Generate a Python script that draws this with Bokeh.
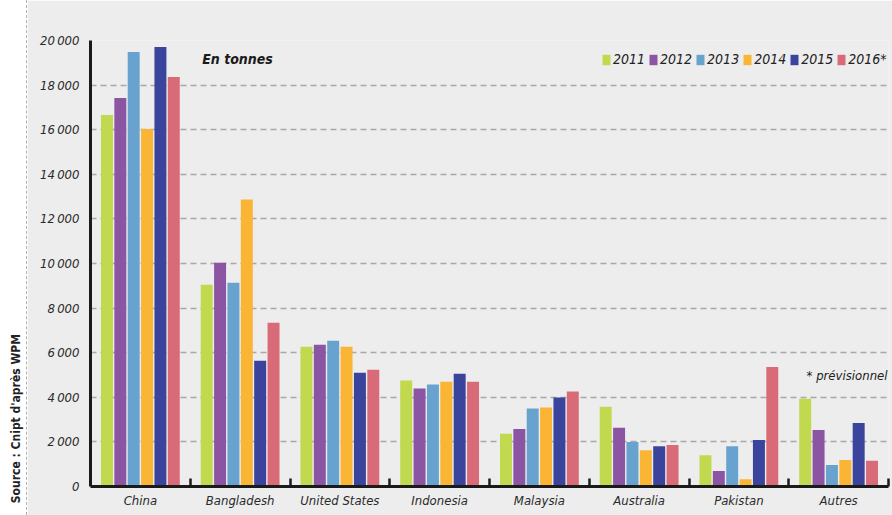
from bokeh.plotting import figure
from bokeh.models import (ColumnDataSource, FixedTicker, Legend, LegendItem,
                          Label, Range1d, Div)
from bokeh.layouts import row
from bokeh.transform import dodge
from bokeh.embed import file_html
from bokeh.resources import INLINE

# ---------------- data ----------------
categories = ["China", "Bangladesh", "United States", "Indonesia",
              "Malaysia", "Australia", "Pakistan", "Autres"]
years = ["2011", "2012", "2013", "2014", "2015", "2016*"]
v2011 = [16660, 9045, 6270, 4750, 2360, 3580, 1400, 3940]
v2012 = [17420, 10030, 6360, 4390, 2580, 2640, 690, 2530]
v2013 = [19480, 9135, 6540, 4570, 3500, 2000, 1810, 960]
v2014 = [16030, 12865, 6270, 4700, 3540, 1630, 330, 1190]
v2015 = [19710, 5640, 5100, 5060, 3990, 1810, 2080, 2850]
v2016 = [18360, 7340, 5240, 4700, 4260, 1860, 5360, 1150]
series = [v2011, v2012, v2013, v2014, v2015, v2016]
colors = ["#c0d94f", "#8c55a3", "#68a3cf", "#fbb535", "#3a449c", "#d96a78"]
y_ticks = [0, 2000, 4000, 6000, 8000, 10000, 12000, 14000, 16000, 18000, 20000]
y_tick_labels = ["0", "2\u2009000", "4\u2009000", "6\u2009000", "8\u2009000",
                 "10\u2009000", "12\u2009000", "14\u2009000", "16\u2009000",
                 "18\u2009000", "20\u2009000"]
unit_text = "En tonnes"
note_text = "* prévisionnel"
source_text = "Source : Cnipt d'après WPM"

FONT = "DejaVu Sans Condensed"
BG = "#ededed"

n = len(categories)
data = {"x": [i + 0.5 for i in range(n)], "cat": categories}
for y, s in zip(years, series):
    data[y] = s
src = ColumnDataSource(data)

fig = figure(width=865, height=515, output_backend="svg", toolbar_location=None,
             x_range=Range1d(0, n), y_range=Range1d(0, 20000),
             min_border_left=63, min_border_right=4, min_border_top=40,
             min_border_bottom=29, background_fill_color=BG,
             border_fill_color=BG, outline_line_color=None, margin=0)

step = 0.134
renderers = []
for i, (y, c) in enumerate(zip(years, colors)):
    off = (i - 2.5) * step
    r = fig.vbar(x=dodge("x", off), top=y, width=0.12, source=src,
                 fill_color=c, line_color=None)
    renderers.append(r)

# grid
fig.xgrid.grid_line_color = None
fig.ygrid.ticker = FixedTicker(ticks=y_ticks)
fig.ygrid.grid_line_color = "#a8a8a8"
fig.ygrid.grid_line_width = 1.6
fig.ygrid.grid_line_dash = "6 4"

# y axis
yax = fig.yaxis[0]
yax.ticker = FixedTicker(ticks=y_ticks)
yax.major_label_overrides = {t: l for t, l in zip(y_ticks, y_tick_labels)}
yax.axis_line_color = "#1a1a1a"
yax.axis_line_width = 3
yax.major_tick_in = 0
yax.major_tick_out = 0
yax.minor_tick_in = 0
yax.minor_tick_out = 0
yax.major_label_standoff = 11
yax.major_label_text_font = FONT
yax.major_label_text_font_style = "italic"
yax.major_label_text_font_size = "13px"
yax.major_label_text_color = "#2a2a2a"

# x axis: labels at centers, ticks at boundaries (minor ticks)
xax = fig.xaxis[0]
xax.ticker = FixedTicker(ticks=[i + 0.5 for i in range(n)],
                         minor_ticks=[i for i in range(1, n + 1)])
xax.major_label_overrides = {i + 0.5: c for i, c in enumerate(categories)}
xax.axis_line_color = "#1a1a1a"
xax.axis_line_width = 3
xax.major_tick_in = 0
xax.major_tick_out = 0
xax.minor_tick_in = 8
xax.minor_tick_out = 0
xax.minor_tick_line_color = "#1a1a1a"
xax.minor_tick_line_width = 2.5
xax.major_label_standoff = 6
xax.major_label_text_font = FONT
xax.major_label_text_font_style = "italic"
xax.major_label_text_font_size = "13px"
xax.major_label_text_color = "#2a2a2a"

# legend
items = [LegendItem(label=y, renderers=[r]) for y, r in zip(years, renderers)]
legend = Legend(items=items, orientation="horizontal", location=(511, 419),
                background_fill_alpha=0, border_line_alpha=0, padding=0,
                margin=0, spacing=3, label_standoff=2, glyph_width=10,
                glyph_height=13, label_text_font=FONT,
                label_text_font_style="italic", label_text_font_size="14px",
                label_text_color="#222222", label_height=13)
fig.add_layout(legend)

fig.add_layout(Label(x=1.12, y=19170, text=unit_text, text_font=FONT,
                     text_font_style="bold italic", text_font_size="14px",
                     text_color="#1a1a1a", text_baseline="middle"))
fig.add_layout(Label(x=7.99, y=5000, text=note_text, text_font=FONT,
                     text_font_style="italic", text_font_size="13px",
                     text_color="#222222", text_baseline="middle",
                     text_align="right"))

# white left margin strip carrying the rotated source note
side = Div(
    text=("<div style=\"position:absolute; left:8px; bottom:12px; "
          "writing-mode:vertical-rl; transform:rotate(180deg); "
          "font-family:'DejaVu Sans Condensed'; font-weight:bold; "
          "font-size:12px; color:#222; white-space:nowrap;\">"
          + source_text + "</div>"),
    width=27, height=515, margin=0,
    styles={"background-color": "white", "position": "relative",
            "border-right": "1.5px dashed #b0b0b0", "box-sizing": "border-box",
            "overflow": "hidden"})

p = row(side, fig, spacing=0, margin=0)

open("out.html", "w").write(file_html(p, INLINE))
